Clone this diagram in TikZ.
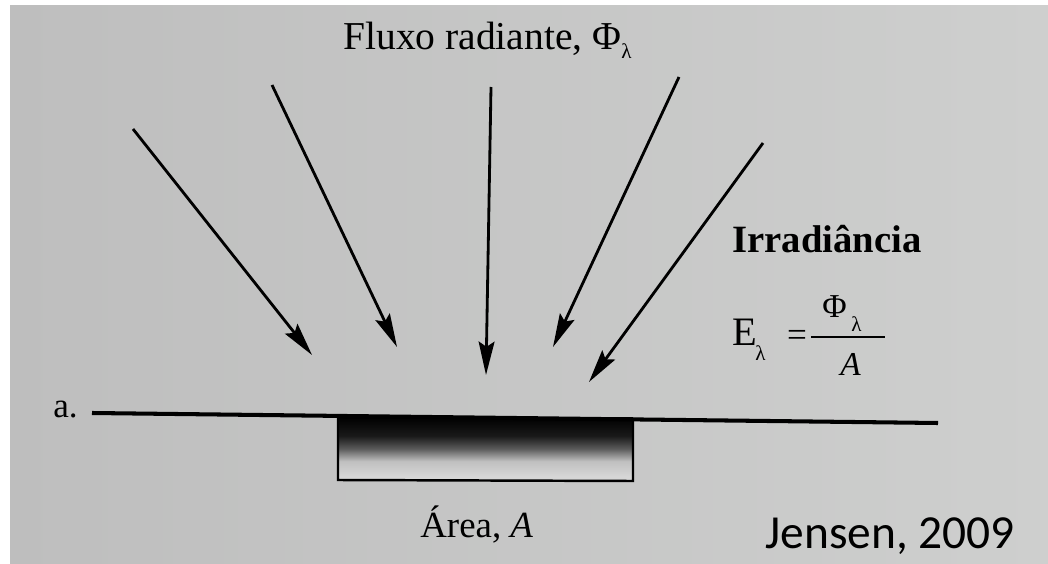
\documentclass[tikz,border=0pt]{standalone}
\usepackage{fontspec}
\setmainfont{Liberation Serif}
\newfontfamily\refont{Carlito}
\usetikzlibrary{arrows.meta}

\definecolor{paperl}{RGB}{190,190,190}
\definecolor{paperr}{RGB}{206,207,206}
\definecolor{paperm}{RGB}{214,214,214}
\pgfdeclareverticalshading{areashade}{100bp}{color(0bp)=(paperm); color(28bp)=(paperm); color(40bp)=(black!25); color(50bp)=(black!65); color(60bp)=(black!90); color(75bp)=(black); color(100bp)=(black)}

\begin{document}
\begin{tikzpicture}[x=0.02cm, y=-0.02cm,
    ray/.style={line width=1.6pt, -{Stealth[length=19pt, width=9pt, inset=3pt]}},
    txt/.style={anchor=base west, inner sep=0pt}]
  % paper
  \useasboundingbox (0,0) rectangle (1048,564);
  \fill[white] (0,0) rectangle (1048,564);
  \shade[left color=paperl, right color=paperr] (10,6) rectangle (1048,564);

  % fluxo
  \node[txt] (title) at (343,50) {\fontsize{22.5}{26}\selectfont Fluxo radiante, Φ\raisebox{-0.45ex}{\fontsize{12}{14}\selectfont λ}};
  \foreach \sx/\sy/\ex/\ey [count=\i] in {133/129/312/355, 272/85/397/347, 491/87/486/375, 679/77/553/347, 763/143/589/382}
  {
    \coordinate (s\i) at (\sx,\sy);
    \coordinate (t\i) at (\ex,\ey);
    \draw[ray] (s\i) -- (t\i);
  }

  % irradiancia
  \node[txt] (irr) at (732,253) {\fontsize{22}{26}\selectfont\bfseries Irradiância};
  \node[txt] (e) at (732,345) {\fontsize{23}{27}\selectfont E};
  \node[txt] (esub) at (755,360) {\fontsize{12}{14}\selectfont λ};
  \node[inner sep=0pt] (eq) at (797,338) {\fontsize{20}{24}\selectfont =};
  \coordinate (b1) at (811,337);
  \coordinate (b2) at (885,337);
  \draw[line width=1.3pt] (b1) -- (b2);
  \node[txt] (phi) at (822,317) {\fontsize{19}{22}\selectfont Φ};
  \node[txt] (phisub) at (851,331) {\fontsize{12}{14}\selectfont λ};
  \node[txt] (den) at (840,375) {\fontsize{19}{22}\selectfont\itshape A};

  % superficie
  \node[txt] (a) at (53,417) {\fontsize{20}{24}\selectfont a.};
  \coordinate (l1) at (92,413);
  \coordinate (l2) at (938,423);
  \shade[shading=areashade] (338,417) rectangle (633,480);
  \coordinate (c1) at (338,417);
  \coordinate (c2) at (338,480);
  \coordinate (c3) at (633,481);
  \coordinate (c4) at (633,420);
  \draw[line width=1.4pt] (c1) -- (c2) -- (c3) -- (c4);
  \draw[line width=2.3pt] (l1) -- (l2);
  \node[txt] (area) at (420,537) {\fontsize{21}{25}\selectfont Área, \textit{A}};

  \node[txt] (ref) at (765,548) {\fontsize{27}{32}\selectfont\refont Jensen, 2009};
\end{tikzpicture}
\end{document}
